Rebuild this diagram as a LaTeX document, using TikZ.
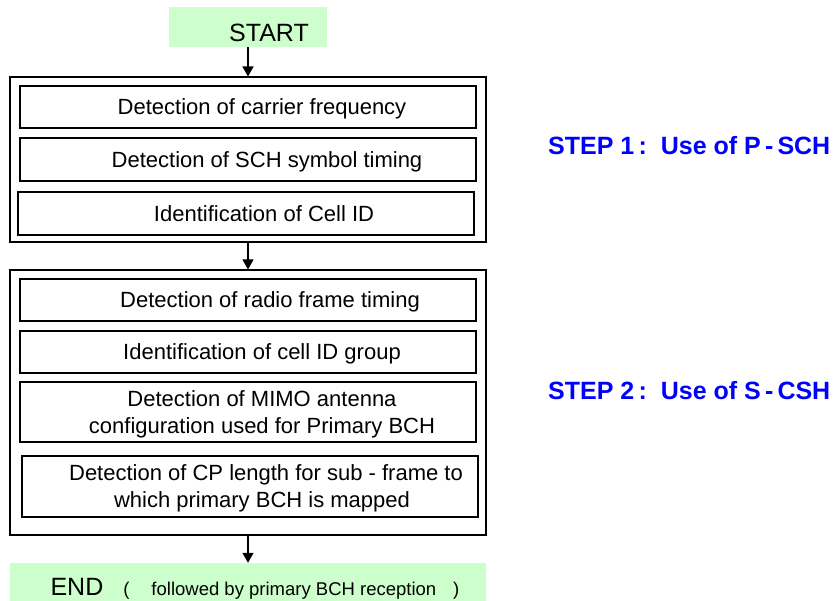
\documentclass[tikz,border=0pt]{standalone}
\usepackage{fontspec}
\setmainfont{Liberation Sans}
\usetikzlibrary{arrows.meta}

\definecolor{termgreen}{RGB}{204,255,204}
\definecolor{stepblue}{RGB}{0,0,255}

\begin{document}
\begin{tikzpicture}[x=1pt,y=-1pt,
    task/.style={draw, line width=1.1pt, minimum width=456pt, inner sep=0pt,
                 align=center, text depth=0pt, font=\fontsize{22}{27}\selectfont},
    group/.style={draw, line width=1.1pt, minimum width=476pt, inner sep=0pt},
    term/.style={fill=termgreen, inner sep=0pt, text depth=0pt},
    steplabel/.style={text=stepblue, anchor=west, inner sep=0pt,
                      font=\fontsize{25}{30}\selectfont\bfseries},
    flow/.style={-{Triangle[length=10pt,width=11pt]}, line width=1.5pt}]

    \useasboundingbox (0,0) rectangle (835,601);

    % terminals
    \node[term, minimum width=158pt, minimum height=40pt, text height=30pt,
          font=\fontsize{25}{28}\selectfont]
        (start) at (248,27) {\hspace*{42pt}START};
    \node[term, minimum width=476pt, minimum height=38pt, text height=26pt] (finish) at (248,582)
        {\hspace*{14pt}{\fontsize{25}{28}\selectfont END}\hspace{20pt}%
         {\fontsize{18.5}{22}\selectfont(\hspace{22pt}followed by primary BCH reception\hspace{17pt})}};

    % step 1
    \node[group, minimum height=165pt] (step1) at (248,159.5) {};
    \node[task, minimum height=42pt] (carrier) at (248,107) {\hspace*{28pt}Detection of carrier frequency};
    \node[task, minimum height=43pt] (symbol) at (248,159.5) {\hspace*{38pt}Detection of SCH symbol timing};
    \node[task, minimum height=43pt] (cellid) at (246,213.5) {\hspace*{36pt}Identification of Cell ID};

    % step 2
    \node[group, minimum height=265pt] (step2) at (248,402.5) {};
    \node[task, minimum height=42pt] (frame) at (248,300) {\hspace*{44pt}Detection of radio frame timing};
    \node[task, minimum height=42pt] (group) at (248,352) {\hspace*{28pt}Identification of cell ID group};
    \node[task, minimum height=60pt] (mimo) at (248,412)
        {\hspace*{28pt}Detection of MIMO antenna\\ \hspace*{28pt}configuration used for Primary BCH};
    \node[task, minimum height=61pt] (cplen) at (250,486.5)
        {\hspace*{32pt}Detection of CP length for sub - frame to\\ \hspace*{24pt}which primary BCH is mapped};

    % labels
    \node[steplabel] (label1) at (548,146) {STEP 1\,:\hspace{14pt}Use of P\,-\,SCH};
    \node[steplabel] (label2) at (548,391) {STEP 2\,:\hspace{14pt}Use of S\,-\,CSH};

    \path[flow]
    (start) edge (step1)
    (step1) edge (step2)
    (step2) edge (finish);

\end{tikzpicture}
\end{document}
